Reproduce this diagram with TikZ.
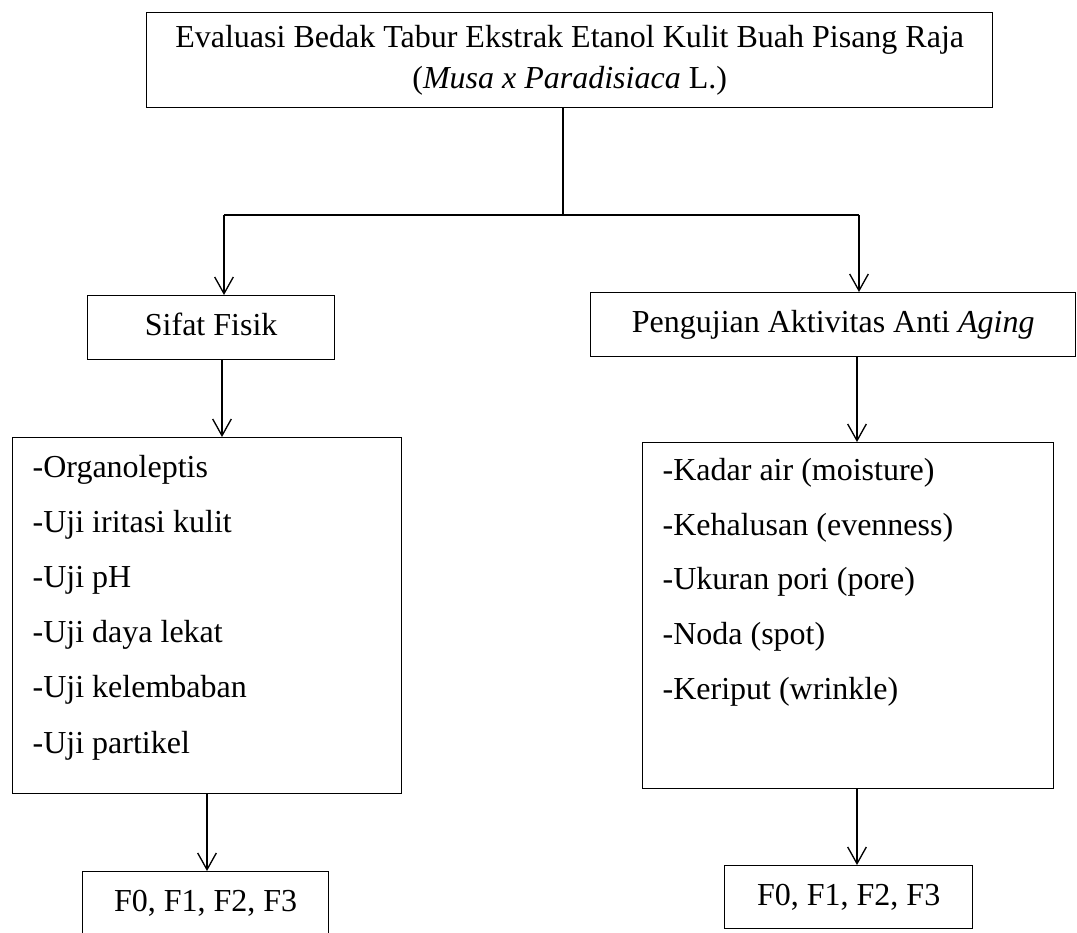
\documentclass[tikz,border=0pt]{standalone}
\usepackage{fontspec}
\setmainfont{Liberation Serif}
\usetikzlibrary{arrows.meta}
\begin{document}
\begin{tikzpicture}[x=0.75pt,y=-0.75pt,line width=1pt,
  every node/.style={font=\fontsize{24}{30.75}\selectfont},
  box/.style={draw,anchor=north west,inner sep=0pt,text height=17pt,text depth=5pt},
  item/.style={anchor=base west,inner sep=0pt},
  arr/.style={-{Straight Barb[length=12.5pt,width=14pt]}}]
\useasboundingbox (0,0) rectangle (1077,932);
% boxes
\node[draw,anchor=north west,inner sep=0pt,minimum width=634.5pt,minimum height=71.25pt,align=center,yshift=-1.5pt] (top) at (146,10) {Evaluasi Bedak Tabur Ekstrak Etanol Kulit Buah Pisang Raja\\(\textit{Musa x Paradisiaca} L.)};
\node[box,minimum width=185.25pt,minimum height=48pt] (sifat) at (87,295) {Sifat Fisik};
\node[box,minimum width=363.75pt,minimum height=48pt] (uji) at (590,292) {Pengujian Aktivitas Anti \textit{Aging}};
\node[draw,anchor=north west,inner sep=0pt,minimum width=291.75pt,minimum height=267pt] (listL) at (12,437) {};
\node[draw,anchor=north west,inner sep=0pt,minimum width=308.25pt,minimum height=259.5pt] (listR) at (642,442) {};
\node[box,minimum width=184.5pt,minimum height=48pt] (fL) at (82,871) {F0, F1, F2, F3};
\node[box,minimum width=186pt,minimum height=47.25pt] (fR) at (724,865) {F0, F1, F2, F3};
% list items
\node[item] (l1) at (32,477.5) {-Organoleptis};
\node[item] (l2) at (32,532.6) {-Uji iritasi kulit};
\node[item] (l3) at (32,587.7) {-Uji pH};
\node[item] (l4) at (32,642.8) {-Uji daya lekat};
\node[item] (l5) at (32,697.9) {-Uji kelembaban};
\node[item] (l6) at (32,753) {-Uji partikel};
\node[item] (r1) at (662,480) {-Kadar air (moisture)};
\node[item] (r2) at (662,535) {-Kehalusan (evenness)};
\node[item] (r3) at (662,589) {-Ukuran pori (pore)};
\node[item] (r4) at (662,644) {-Noda (spot)};
\node[item] (r5) at (662,699) {-Keriput (wrinkle)};
% connectors
\coordinate (j) at (563,215);
\coordinate (hl) at (224,215);
\coordinate (hr) at (859,215);
\coordinate (xa) at (222,0);
\coordinate (xb) at (207,0);
\coordinate (xd) at (857,0);
\draw (top.south -| j) -- (j);
\draw (hl) -- (hr);
\draw[arr] (hl) -- (sifat.north -| hl);
\draw[arr] (hr) -- (uji.north -| hr);
\draw[arr] (sifat.south -| xa) -- (listL.north -| xa);
\draw[arr] (listL.south -| xb) -- (fL.north -| xb);
\draw[arr] (uji.south -| xd) -- (listR.north -| xd);
\draw[arr] (listR.south -| xd) -- (fR.north -| xd);
\end{tikzpicture}
\end{document}
